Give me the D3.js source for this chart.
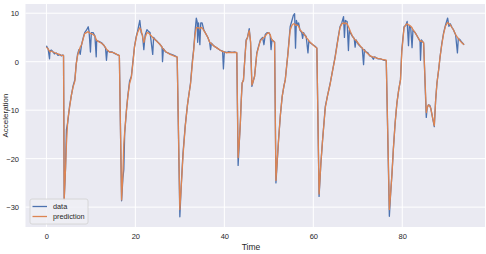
<!DOCTYPE html>
<html>
<head>
<meta charset="utf-8">
<script src="https://cdn.jsdelivr.net/npm/d3@7"></script>
<style>
  body { margin: 0; background: #fff; }
  svg text { font-family: "Liberation Sans", Arial, sans-serif; fill: #262626; }
</style>
</head>
<body>
<svg id="chart"></svg>
<script>
// time stamps shared by both series
var time = [
  0.0, 0.4, 0.7, 0.8, 1.1, 1.5, 1.8, 2.2, 2.6, 3.0, 3.4, 3.7, 3.85,
  4.0, 4.3, 4.5, 4.8, 5.2, 5.6, 6.0, 6.4, 6.7, 7.0, 7.3, 7.6, 7.9, 8.3, 8.6, 9.0, 9.4, 9.6, 9.9,
  10.1, 10.5, 10.9, 11.2, 11.3, 11.8, 12.4, 12.9, 13.3, 13.5, 13.7, 14.2, 14.8, 15.3, 15.8, 16.3, 16.4,
  16.9, 17.2, 17.4, 17.6, 18.0, 18.3, 18.7, 19.1, 19.5, 19.8, 20.2, 20.5, 21.0, 21.3, 21.6, 21.9,
  22.2, 22.6, 23.0, 23.3, 23.9, 24.1, 24.5, 24.9, 25.5, 26.0, 26.1, 26.3, 26.8, 27.3, 27.8, 28.4, 28.9, 29.3, 29.4,
  30.0, 30.3, 30.7, 31.2, 31.7, 32.0, 32.4, 32.8, 33.1, 33.4, 33.7, 33.9, 34.0, 34.2, 34.5, 34.7,
  35.0, 35.4, 35.7, 36.3, 36.7, 36.9, 37.1, 37.7, 38.4, 39.0, 39.6, 39.8, 40.0, 40.5, 41.0, 41.7, 42.4, 42.8,
  43.1, 43.4, 43.6, 43.8, 44.0, 44.3, 44.6, 44.9, 45.2, 45.6, 45.9, 46.2, 46.5, 46.8, 47.3, 47.7,
  48.1, 48.6, 48.9, 49.2, 49.6, 50.0, 50.3, 50.5, 50.7, 51.1, 51.3,
  51.6, 52.2, 52.6, 53.0, 53.4, 53.7, 54.0, 54.3, 54.8, 55.2, 55.5, 55.8, 56.0, 56.2, 56.5, 56.7,
  57.0, 57.4, 57.6, 57.8, 58.0, 58.4, 58.8, 59.0, 59.3, 59.9, 60.4, 60.8,
  61.3, 61.7, 62.1, 62.7, 63.2, 63.8, 64.3, 64.9, 65.5, 66.0, 66.4, 66.8, 67.0, 67.2, 67.6, 67.9,
  68.1, 68.3, 68.8, 69.2, 69.4, 69.6, 70.1, 70.6, 71.0, 71.3, 71.5, 71.7, 72.2, 72.7, 73.2, 73.5, 73.8,
  74.5, 75.1, 75.8, 76.4,
  77.1, 77.4, 77.7, 78.0, 78.4, 78.8, 79.2, 79.6, 79.9, 80.4, 80.8, 81.1, 81.4, 81.6, 81.9, 82.2,
  82.4, 82.9, 83.4, 84.0, 84.1, 84.3, 84.8,
  85.4, 85.6, 85.9, 86.2, 86.4, 86.8, 87.2, 87.5, 87.8, 88.2, 88.5, 88.9, 89.3, 89.7,
  90.2, 90.5, 90.8, 91.2, 91.5, 92.0, 92.4, 92.6, 93.0, 93.4, 93.9
];

// measured acceleration
var dataValues = [
  3.3, 2.6, 0.6, 2.2, 2.4, 2.0, 1.6, 1.8, 1.3, 1.5, 1.2, 1.4, 1.2,
  -28.3, -22, -14, -12.5, -9.2, -7, -5, -3.7, -0.5, 1.5, 2.5, 1.5, 3.5, 5.0, 6.0, 6.5, 7.2, 6.2, 2.0,
  6.0, 6.0, 5.3, 1.0, 4.3, 4.2, 3.9, 3.4, 2.8, 0.3, 2.3, 2.0, 2.0, 1.7, 1.5, 1.3, 1.2,
  -28.7, -24, -22.3, -14.7, -10, -7.1, -4, -3, 0.5, 3.1, 5.2, 6.3, 8.5, 6.0, 5.5, 2.5,
  5.5, 6.6, 6.2, 6.0, 1.5, 5.0, 4.5, 4.2, 3.6, 3.0, 0.0, 2.7, 2.0, 1.8, 1.6, 1.4, 1.2, 1.0, 0.9,
  -32.0, -25.7, -19, -13.3, -9, -7, -4.4, 0, 2.5, 6, 9.0, 8.2, 4.0, 8.0, 3.5, 8.0,
  8.0, 6.5, 6.0, 5.0, 4.0, 2.5, 3.8, 3.2, 2.8, 2.4, 2.2, -1.5, 2.0, 1.9, 2.1, 1.9, 2.0, 1.8,
  -21.4, -16, -12.6, -8, -4.4, -3.8, 0.5, 4.5, 5.0, 6.8, 3.9, -5.1, -4, -3, 1.8, 3.2,
  4.5, 5.0, 3.5, 5.6, 6.0, 6.0, 5.5, 2.5, 4.5, 4.2, 4.0,
  -25.0, -16, -11, -7.2, -5, -3.7, -1, 1.8, 7.2, 8.5, 9.5, 9.9, 2.8, 8.5, 7.5, 8.0,
  6.5, 6.0, 4.8, 6.0, 5.6, 5.2, 1.8, 4.3, 3.9, 3.5, 3.2, 2.8,
  -27.8, -21, -16, -9.2, -7, -4.4, -2, 1.0, 4.5, 7.2, 8.0, 9.3, 5.0, 8.5, 8.3, 2.3,
  6.5, 6.0, 5.2, 4.8, 3.0, 4.5, 3.6, 3.1, 2.8, -0.6, 2.5, 2.1, 1.9, 1.2, 1.0, 0.5, 1.0,
  0.6, 0.6, 0.3, 0.2,
  -31.9, -27, -22.9, -18, -12.6, -8.5, -5.8, -3.7, 2.5, 7.2, 7.5, 8.3, 3.3, 7.5, 7.0, 2.9,
  6.5, 6.0, 5.2, 4.2, 0.3, 4.5, 3.9,
  -11.5, -9.5, -8.9, -9.0, -9.6, -11.5, -13.4, -8, -4.4, -1.5, 1.0, 3.8, 6.0, 7.5,
  9.0, 7.3, 7.8, 7.0, 6.6, 5.5, 1.8, 4.8, 4.5, 4.0, 3.5
];

// model prediction
var predValues = [
  3.0, 2.6, 2.2, 2.0, 2.2, 2.0, 1.9, 1.7, 1.6, 1.4, 1.3, 1.3, 1.3,
  -28.5, -22, -17, -12, -9.5, -7, -5.2, -4, -0.5, 1.2, 2.2, 3.0, 3.5, 4.8, 5.8, 6.0, 6.2, 6.0, 5.8,
  5.8, 5.6, 5.3, 4.6, 4.4, 4.1, 3.8, 3.4, 2.9, 2.6, 2.4, 2.0, 1.9, 1.8, 1.5, 1.3, 1.3,
  -28.5, -23, -17, -14.5, -10, -7.2, -4.5, -3.2, 0.2, 3.0, 5.0, 6.0, 7.0, 6.5, 5.2, 4.0,
  5.0, 6.0, 5.9, 5.6, 5.0, 4.8, 4.5, 4.1, 3.6, 3.0, 2.8, 2.6, 2.1, 1.8, 1.5, 1.3, 1.1, 1.0, 1.0,
  -30.5, -26, -19.5, -13.5, -9, -7, -4.6, -0.5, 2.2, 5.5, 7.0, 7.0, 7.0, 7.0, 6.8, 7.0,
  7.0, 6.4, 6.0, 5.0, 4.0, 3.9, 3.7, 3.2, 2.8, 2.4, 2.1, 2.1, 2.0, 1.8, 1.9, 1.9, 1.9, 1.9,
  -19.8, -16, -12.6, -8, -4.4, -3.8, 0.5, 4.2, 5.0, 6.4, 4.2, -4.8, -4, -3, 1.6, 3.0,
  4.3, 4.8, 5.0, 5.3, 5.8, 6.0, 5.6, 5.0, 4.5, 4.2, 4.0,
  -24.5, -16, -11, -7.2, -5, -3.8, -1, 1.6, 6.5, 7.5, 7.8, 7.8, 7.5, 7.6, 7.5, 7.3,
  6.6, 6.2, 6.0, 5.8, 5.6, 5.0, 4.6, 4.3, 4.0, 3.5, 3.1, 2.8,
  -27.3, -21, -16, -9.5, -7, -4.6, -2, 0.8, 4.3, 7.0, 7.8, 8.0, 7.8, 8.0, 7.8, 7.2,
  6.8, 6.3, 5.3, 4.7, 4.5, 4.4, 3.8, 3.2, 2.8, 2.5, 2.3, 2.1, 1.7, 1.3, 1.0, 1.0, 0.9,
  0.7, 0.6, 0.4, 0.3,
  -30.5, -27, -23, -18, -12.6, -8.5, -5.8, -3.8, 2.0, 7.0, 7.6, 7.8, 7.6, 7.5, 7.3, 7.0,
  6.6, 6.0, 5.2, 4.3, 4.2, 4.3, 3.9,
  -10.5, -9.5, -8.9, -9.2, -9.6, -11.5, -13.2, -8, -4.4, -1.5, 1.0, 3.6, 5.8, 7.3,
  8.1, 7.8, 7.6, 7.0, 6.6, 5.6, 5.0, 4.8, 4.3, 3.9, 3.5
];

var xTicks = [0, 20, 40, 60, 80];
var yTicks = [-30, -20, -10, 0, 10];
var legendLabels = ["data", "prediction"];

// set the dimensions and margins of the graph
var margin = {top: 4, right: 1, bottom: 27, left: 25.5},
    width = 486 - margin.left - margin.right,
    height = 254 - margin.top - margin.bottom;

var svg = d3.select("#chart")
    .attr("width", 486)
    .attr("height", 254)
  .append("g")
    .attr("transform", "translate(" + margin.left + "," + margin.top + ")");

// set the ranges
var x = d3.scaleLinear().domain([-4.7, 98.6]).range([0, width]);
var y = d3.scaleLinear().domain([-34.1, 11.9]).range([height, 0]);

// axes background
svg.append("rect")
    .attr("width", width)
    .attr("height", height)
    .attr("fill", "#eaeaf2");

// grid lines
svg.append("g")
    .selectAll("line")
    .data(xTicks).enter()
  .append("line")
    .attr("x1", function(d) { return x(d); })
    .attr("x2", function(d) { return x(d); })
    .attr("y1", 0)
    .attr("y2", height)
    .attr("stroke", "#fff")
    .attr("stroke-width", 1);

svg.append("g")
    .selectAll("line")
    .data(yTicks).enter()
  .append("line")
    .attr("x1", 0)
    .attr("x2", width)
    .attr("y1", function(d) { return y(d); })
    .attr("y2", function(d) { return y(d); })
    .attr("stroke", "#fff")
    .attr("stroke-width", 1);

// x axis
var xAxis = svg.append("g")
    .attr("transform", "translate(0," + height + ")")
    .call(d3.axisBottom(x).tickValues(xTicks).tickSize(0).tickPadding(7));
xAxis.select(".domain").remove();
xAxis.selectAll("text").style("font-size", "7.5px").attr("fill", "#262626");

// y axis
var yAxis = svg.append("g")
    .call(d3.axisLeft(y).tickValues(yTicks).tickSize(0).tickPadding(6.5));
yAxis.select(".domain").remove();
yAxis.selectAll("text").style("font-size", "7.5px").attr("fill", "#262626");

// axis labels
svg.append("text")
    .attr("x", x(46))
    .attr("y", height + 23)
    .style("text-anchor", "middle")
    .style("font-size", "8.5px")
    .text("Time");

// y label hugs the left edge of the figure
svg.append("text")
    .attr("transform", "translate(" + (-17.8) + "," + (height / 2) + ") rotate(-90)")
    .style("text-anchor", "middle")
    .style("font-size", "8px")
    .text("Acceleration");

// build rows for the lines
var rows = time.map(function(t, i) {
  return {t: t, data: dataValues[i], pred: predValues[i]};
});

var dataLine = d3.line()
    .x(function(d) { return x(d.t); })
    .y(function(d) { return y(d.data); });

var predLine = d3.line()
    .x(function(d) { return x(d.t); })
    .y(function(d) { return y(d.pred); });

var colors = ["#4c72b0", "#dd8452"];

svg.append("path")
    .datum(rows)
    .attr("fill", "none")
    .attr("stroke", colors[0])
    .attr("stroke-width", 1.3)
    .attr("stroke-linejoin", "round")
    .attr("d", dataLine);

svg.append("path")
    .datum(rows)
    .attr("fill", "none")
    .attr("stroke", colors[1])
    .attr("stroke-width", 1.3)
    .attr("stroke-linejoin", "round")
    .attr("d", predLine);

// legend
var legend = svg.append("g")
    .attr("transform", "translate(4.5," + (height - 28) + ")");

legend.append("rect")
    .attr("width", 58)
    .attr("height", 25)
    .attr("rx", 2)
    .attr("fill", "#eeeef4")
    .attr("fill-opacity", 0.85)
    .attr("stroke", "#d0d0d0")
    .attr("stroke-width", 0.8);

legendLabels.forEach(function(label, i) {
  legend.append("line")
      .attr("x1", 2.5)
      .attr("x2", 17)
      .attr("y1", 7.5 + i * 10)
      .attr("y2", 7.5 + i * 10)
      .attr("stroke", colors[i])
      .attr("stroke-width", 1.3);
  legend.append("text")
      .attr("x", 23)
      .attr("y", 7.5 + i * 10)
      .attr("dy", "0.35em")
      .style("font-size", "7.3px")
      .text(label);
});
</script>
</body>
</html>
